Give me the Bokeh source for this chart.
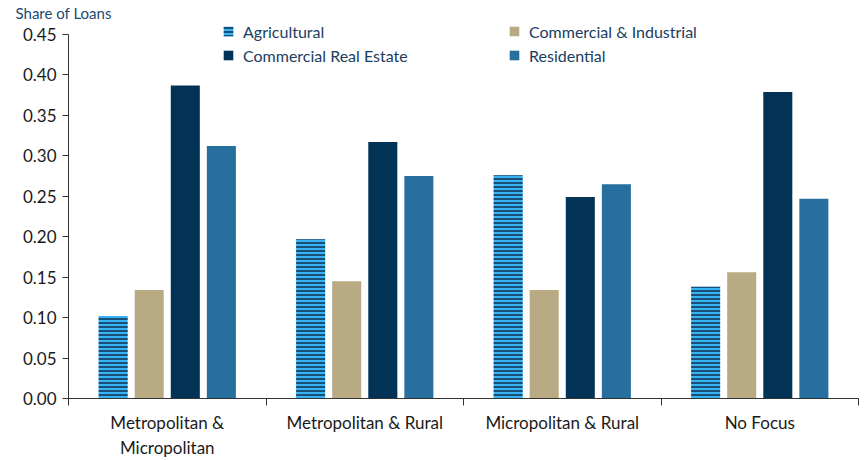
import numpy as np
from bokeh.plotting import figure
from bokeh.models import (Range1d, FixedTicker, Legend, LegendItem,
                          ColumnDataSource, NumeralTickFormatter)
from bokeh.embed import file_html
from bokeh.resources import INLINE

categories = ["Metropolitan &\nMicropolitan", "Metropolitan & Rural", "Micropolitan & Rural", "No Focus"]
series = ["Agricultural", "Commercial & Industrial", "Commercial Real Estate", "Residential"]
agricultural = [0.102, 0.197, 0.276, 0.138]
commercial_industrial = [0.134, 0.145, 0.134, 0.156]
commercial_real_estate = [0.387, 0.317, 0.249, 0.379]
residential = [0.312, 0.275, 0.265, 0.247]
y_ticks = [0.0, 0.05, 0.10, 0.15, 0.20, 0.25, 0.30, 0.35, 0.40, 0.45]

values = [agricultural, commercial_industrial, commercial_real_estate, residential]
colors = ["#38b4f5", "#b8aa82", "#023357", "#266f9f"]
offsets = [-0.274, -0.0914, 0.0914, 0.274]
bar_w = 0.147
FONT = "Lato"

p = figure(width=867, height=460, output_backend="svg", toolbar_location=None,
           x_range=Range1d(0, len(categories)), y_range=Range1d(0, 0.4648),
           min_border_left=68, min_border_right=9, min_border_top=22, min_border_bottom=61)
p.outline_line_color = None
p.grid.grid_line_color = None
p.background_fill_color = "white"
p.border_fill_color = "white"

p.title.text = "Share of Loans"
p.title.align = "left"
p.title.offset = -53
p.title.text_font = FONT
p.title.text_font_size = "15px"
p.title.text_font_style = "normal"
p.title.text_color = "#1b4a72"
p.title.standoff = 1

centers = np.arange(len(categories)) + 0.5
renderers = []
for i, (name, vals) in enumerate(zip(series, values)):
    src = ColumnDataSource(dict(x=centers + offsets[i], top=vals))
    kw = dict(x="x", top="top", width=bar_w, bottom=0, source=src,
              fill_color=colors[i], line_color=None)
    if i == 0:
        kw.update(hatch_pattern="horizontal_line", hatch_color="#0b2540",
                  hatch_scale=4, hatch_weight=1.4)
    renderers.append(p.vbar(**kw))

# axes
xa = p.xaxis[0]
xa.ticker = FixedTicker(ticks=list(centers), minor_ticks=list(range(len(categories) + 1)))
xa.major_label_overrides = {float(c): lab for c, lab in zip(centers, categories)}
xa.major_tick_out = 0
xa.major_tick_in = 0
xa.minor_tick_out = 7
xa.minor_tick_in = 0
xa.axis_line_color = "#333333"
xa.minor_tick_line_color = "#333333"
xa.major_label_text_font = FONT
xa.major_label_text_font_size = "17px"
xa.major_label_text_color = "#1a1a1a"
xa.major_label_standoff = 6

ya = p.yaxis[0]
ya.ticker = FixedTicker(ticks=y_ticks)
ya.formatter = NumeralTickFormatter(format="0.00")
ya.bounds = (0, 0.45)
ya.major_tick_out = 6
ya.major_tick_in = 0
ya.minor_tick_line_color = None
ya.axis_line_color = "#333333"
ya.major_tick_line_color = "#333333"
ya.major_label_text_font = FONT
ya.major_label_text_font_size = "17px"
ya.major_label_text_color = "#1a1a1a"
ya.major_label_standoff = 6

def make_legend(items, x, y):
    lg = Legend(items=items, location=(x, y), orientation="vertical",
                label_text_font=FONT, label_text_font_size="16px",
                label_text_color="#1b3d5e", glyph_width=12, glyph_height=12,
                label_standoff=9, label_height=24, spacing=0, padding=0, margin=0,
                border_line_color=None, background_fill_alpha=0)
    p.add_layout(lg, "center")

make_legend([LegendItem(label=series[0], renderers=[renderers[0]]),
             LegendItem(label=series[2], renderers=[renderers[2]])], 154, 331)
make_legend([LegendItem(label=series[1], renderers=[renderers[1]]),
             LegendItem(label=series[3], renderers=[renderers[3]])], 440, 331)

open("out.html", "w").write(file_html(p, INLINE))
